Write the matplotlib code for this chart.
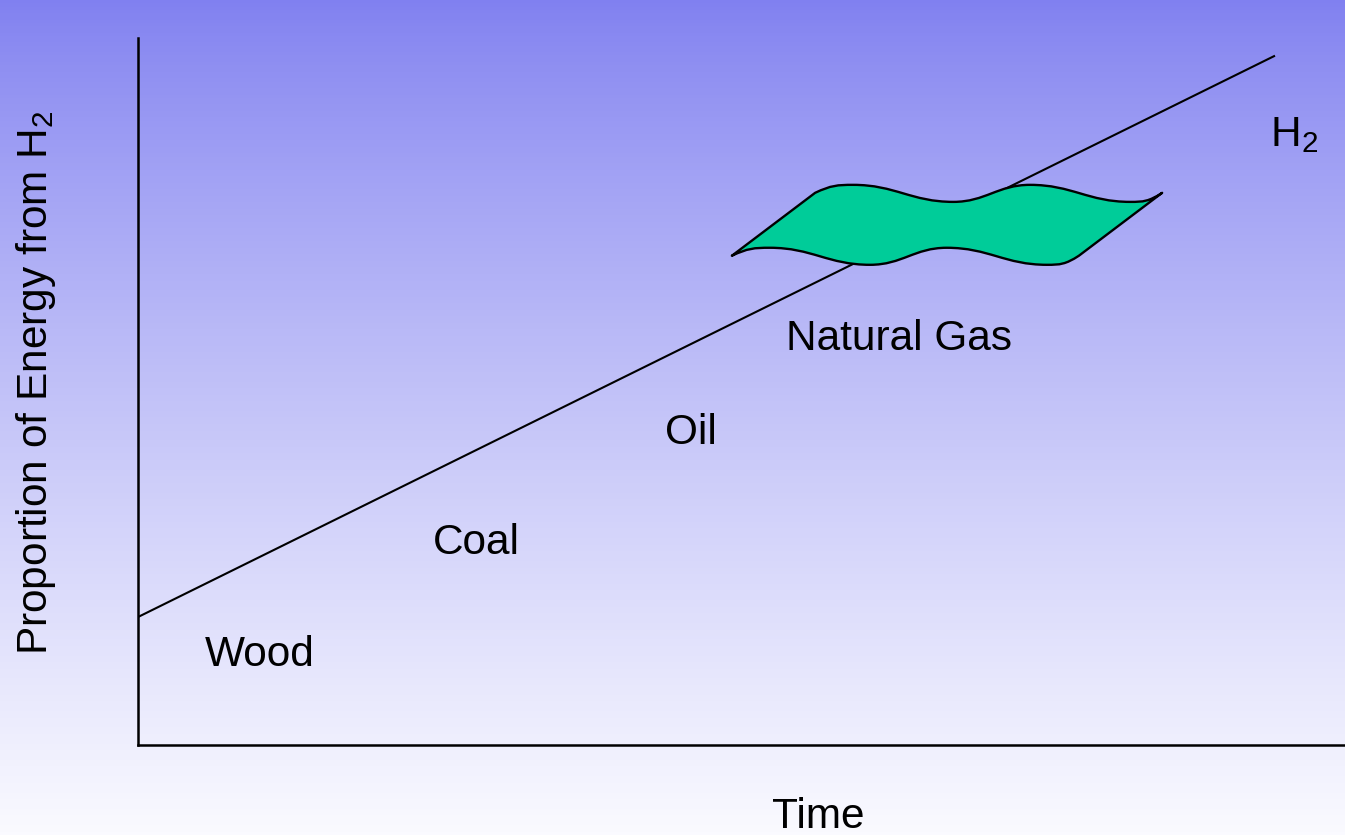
import numpy as np
import matplotlib
matplotlib.use("Agg")
import matplotlib.pyplot as plt
from matplotlib.path import Path
from matplotlib.patches import PathPatch

plt.rcParams['font.family'] = ['Liberation Sans', 'DejaVu Sans']
plt.rcParams['mathtext.fontset'] = 'custom'
plt.rcParams['mathtext.rm'] = 'Liberation Sans'
plt.rcParams['mathtext.it'] = 'Liberation Sans'

# ---- data (conceptual chart, arbitrary units 0-100) ----
trend_x = [0.0, 94.2]
trend_y = [18.1, 97.5]

era_labels = ["Wood", "Coal", "Oil", "Natural Gas", r"H$_\mathregular{2}$"]
era_x = [5.5, 24.4, 43.7, 53.7, 93.8]
era_y = [12.7, 28.6, 44.1, 57.4, 86.2]

# banner ("Natural Gas" wave) keypoints: corners and wave offsets
banner_top_left = (56.1, 78.1)
banner_bottom_left = (49.2, 69.2)
wave_dx = [0.0, 3.15, 11.45, 17.8, 26.1, 28.75]
wave_dy = [0.0, 1.13, -1.28, 1.13, -1.28, 0.0]
wave_slope = [0.8, 0.0, 0.0, 0.0, 0.0, 1.1]

x_label = "Time"
y_label = r"Proportion of Energy from H$_\mathregular{2}$"

# ---- figure ----
W, H = 1345, 835
FS = 30.5
fig = plt.figure(figsize=(W / 100, H / 100), dpi=100)

# gradient background
bg = fig.add_axes([0, 0, 1, 1], zorder=-10)
top = np.array([128, 128, 240]) / 255
bot = np.array([250, 250, 255]) / 255
t = (np.linspace(0, 1, 256) ** 0.82)[:, None]
grad = (top[None, :] * (1 - t) + bot[None, :] * t)[:, None, :]
bg.imshow(grad, aspect='auto', extent=[0, 1, 0, 1], origin='upper')
bg.set_axis_off()

ax = fig.add_axes([138 / W, (H - 745) / H, (W - 138) / W, (745 - 38) / H])
ax.patch.set_alpha(0)
ax.set_xlim(0, 100)
ax.set_ylim(0, 100)
for s in ['top', 'right']:
    ax.spines[s].set_visible(False)
for s in ['left', 'bottom']:
    ax.spines[s].set_linewidth(1.8)
    ax.spines[s].set_color('black')
ax.set_xticks([])
ax.set_yticks([])

ax.plot(trend_x, trend_y, color='black', lw=1.5, zorder=2, solid_capstyle='butt')


def wave_beziers(x0, y0):
    pts = [(x0 + dx, y0 + dy) for dx, dy in zip(wave_dx, wave_dy)]
    segs = []
    for i in range(len(pts) - 1):
        (xa, ya), (xb, yb) = pts[i], pts[i + 1]
        h = xb - xa
        k = 0.42
        c1 = (xa + h * k, ya + h * k * wave_slope[i])
        c2 = (xb - h * k, yb - h * k * wave_slope[i + 1])
        segs.append(((xa, ya), c1, c2, (xb, yb)))
    return segs


tl = banner_top_left
bl = banner_bottom_left
top_segs = wave_beziers(*tl)
bot_segs = wave_beziers(*bl)

verts = [bl, tl]
codes = [Path.MOVETO, Path.LINETO]
for p0, c1, c2, p1 in top_segs:
    verts += [c1, c2, p1]
    codes += [Path.CURVE4] * 3
verts.append(bot_segs[-1][3])
codes.append(Path.LINETO)
for p0, c1, c2, p1 in reversed(bot_segs):
    verts += [c2, c1, p0]
    codes += [Path.CURVE4] * 3
verts.append(bl)
codes.append(Path.CLOSEPOLY)

banner = PathPatch(Path(verts, codes), facecolor='#00CC99', edgecolor='black',
                   lw=1.7, zorder=3, joinstyle='round')
ax.add_patch(banner)

for lab, x, y in zip(era_labels, era_x, era_y):
    ax.text(x, y, lab, fontsize=FS, ha='left', va='center', color='black', zorder=4)

fig.text(818 / W, 1 - 817 / H, x_label, fontsize=FS, ha='center', va='center')
fig.text(36 / W, 1 - 383 / H, y_label, fontsize=FS, ha='center', va='center', rotation=90)

fig.savefig('out.png', dpi=100)
